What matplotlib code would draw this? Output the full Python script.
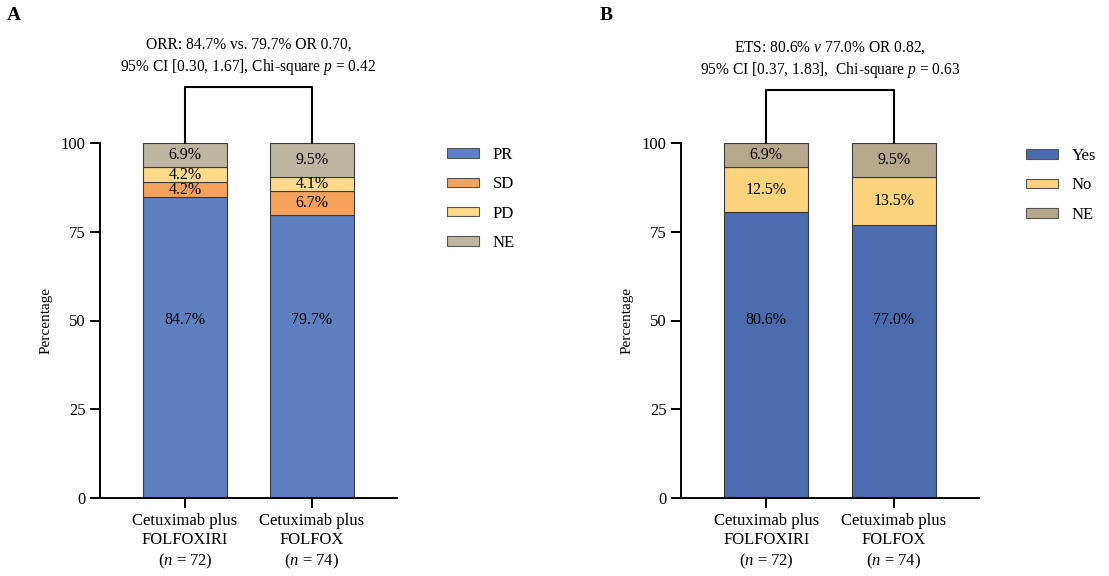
import matplotlib.pyplot as plt
from matplotlib.patches import Patch

plt.rcParams['font.family'] = ['Liberation Serif', 'DejaVu Serif']
plt.rcParams['mathtext.fontset'] = 'custom'
plt.rcParams['mathtext.rm'] = 'Liberation Serif'
plt.rcParams['mathtext.it'] = 'Liberation Serif:italic'
plt.rcParams['font.size'] = 12

# --- datos ---
groups = ['Cetuximab plus\nFOLFOXIRI\n($n$ = 72)', 'Cetuximab plus\nFOLFOX\n($n$ = 74)']

resp_cats = ['PR', 'SD', 'PD', 'NE']
resp_vals = {
    'PR': [84.7, 79.7],
    'SD': [4.2, 6.7],
    'PD': [4.2, 4.1],
    'NE': [6.9, 9.5],
}
resp_colors = ['#5F80C0', '#F5A35C', '#FDDB8B', '#BFB5A3']

ets_cats = ['Yes', 'No', 'NE']
ets_vals = {
    'Yes': [80.6, 77.0],
    'No': [12.5, 13.5],
    'NE': [6.9, 9.5],
}
ets_colors = ['#4B6BAF', '#FDD47E', '#B6A88C']

title_a = 'ORR: 84.7% vs. 79.7% OR 0.70,\n95% CI [0.30, 1.67], Chi-square $p$ = 0.42'
title_b = 'ETS: 80.6% $v$ 77.0% OR 0.82,\n95% CI [0.37, 1.83],  Chi-square $p$ = 0.63'

W, H = 1109, 576
fig = plt.figure(figsize=(W / 100, H / 100), dpi=100)


def stacked(ax, cats, vals, colors, title, bracket_y, text_y):
    x = [0, 1]
    bottom = [0, 0]
    for k, (cat, col) in enumerate(zip(cats, colors)):
        v = vals[cat]
        ax.bar(x, v, bottom=bottom, width=0.66, color=col, edgecolor='#3a3a3a',
               linewidth=0.8, label=cat)
        for i in x:
            # la etiqueta del segmento grande va a media altura del eje
            ypos = 50 if k == 0 else bottom[i] + v[i] / 2
            ax.text(i, ypos, f'{v[i]:.1f}%', ha='center', va='center', fontsize=11.5)
        bottom = [b + vv for b, vv in zip(bottom, v)]
    ax.set_xlim(-0.67, 1.67)
    ax.set_ylim(0, 100)
    ax.set_yticks([0, 25, 50, 75, 100])
    ax.set_xticks(x)
    ax.set_xticklabels(groups, linespacing=1.3)
    ax.set_ylabel('Percentage', fontsize=11, labelpad=6)
    for s in ['top', 'right']:
        ax.spines[s].set_visible(False)
    for s in ['left', 'bottom']:
        ax.spines[s].set_linewidth(1.4)
    ax.tick_params(width=1.4, length=7, labelsize=12)
    # corchete de comparacion
    ax.plot([0, 0, 1, 1], [100, bracket_y, bracket_y, 100], color='black', lw=1.5,
            clip_on=False)
    ax.text(0.5, text_y, title, ha='center', va='center', fontsize=11.2,
            linespacing=1.3, clip_on=False)


ax1 = fig.add_axes([100 / W, 1 - 498 / H, 297 / W, 355 / H])
stacked(ax1, resp_cats, resp_vals, resp_colors, title_a, 115.8, 124.2)
ax2 = fig.add_axes([681 / W, 1 - 498 / H, 298 / W, 355 / H])
stacked(ax2, ets_cats, ets_vals, ets_colors, title_b, 115, 123.4)


def legend(ax, cats, colors, x0, y0):
    handles = [Patch(facecolor=c, edgecolor='#555555', linewidth=0.8, label=k)
               for k, c in zip(cats, colors)]
    ax.legend(handles=handles, loc='upper left',
              bbox_to_anchor=(x0 / W, 1 - y0 / H), bbox_transform=fig.transFigure,
              frameon=False, handlelength=1.9, handleheight=0.5,
              labelspacing=0.8, handletextpad=0.85, borderpad=0, borderaxespad=0,
              fontsize=12)


legend(ax1, resp_cats, resp_colors, 447, 147)
legend(ax2, ets_cats, ets_colors, 1026, 148)

fig.text(7 / W, 1 - 16 / H, 'A', fontsize=14, fontweight='bold', va='center')
fig.text(600 / W, 1 - 15 / H, 'B', fontsize=14, fontweight='bold', va='center')

fig.savefig('out.png', dpi=100)
